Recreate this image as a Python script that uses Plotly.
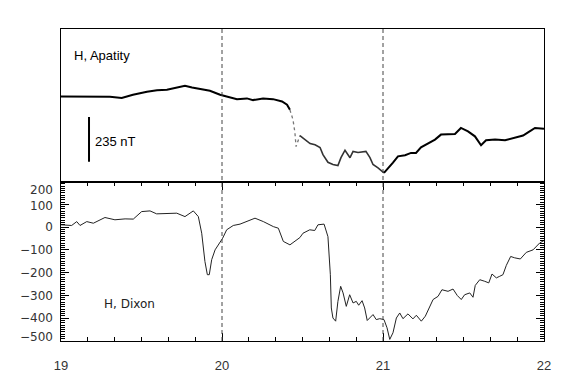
import plotly.graph_objects as go

# ---------------- data ----------------
# Upper panel: H component at Apatity (nT, arbitrary baseline)
apatity_day = [19.000, 19.180, 19.304, 19.377, 19.447, 19.534, 19.596, 19.658, 19.720, 19.770,
               19.814, 19.863, 19.925, 19.988, 20.050, 20.093, 20.155, 20.193, 20.255, 20.317,
               20.373, 20.404, 20.422, 20.441, 20.453, 20.460, 20.484, 20.516, 20.547, 20.578,
               20.609, 20.627, 20.658, 20.689, 20.720, 20.739, 20.764, 20.795, 20.814, 20.845,
               20.894, 20.919, 20.938, 20.969, 21.006, 21.031, 21.062, 21.093, 21.137, 21.174,
               21.205, 21.236, 21.280, 21.323, 21.360, 21.404, 21.447, 21.484, 21.528, 21.571,
               21.609, 21.640, 21.696, 21.758, 21.820, 21.870, 21.901, 21.944, 22.000]
apatity_h = [446, 446, 444, 438, 455, 471, 479, 481, 493, 502,
             493, 485, 476, 455, 443, 432, 436, 427, 436, 432,
             420, 403, 376, 324, 256, 183, 241, 220, 199, 193,
             178, 141, 101, 89, 84, 125, 164, 125, 158, 152,
             158, 125, 89, 72, 45, 68, 99, 132, 138, 150,
             150, 179, 199, 220, 246, 249, 249, 281, 263, 237,
             190, 216, 220, 216, 232, 241, 258, 281, 277]

# Lower panel: H component at Dixon (nT)
dixon_day = [19.000, 19.025, 19.066, 19.098, 19.118, 19.160, 19.201, 19.273, 19.335, 19.398,
             19.449, 19.501, 19.553, 19.594, 19.657, 19.719, 19.770, 19.822, 19.853, 19.874,
             19.894, 19.909, 19.921, 19.936, 19.957, 20.004, 20.029, 20.070, 20.112, 20.153,
             20.205, 20.257, 20.319, 20.350, 20.381, 20.422, 20.452, 20.484, 20.503, 20.545,
             20.576, 20.596, 20.634, 20.658, 20.673, 20.679, 20.689, 20.706, 20.720, 20.737,
             20.752, 20.772, 20.793, 20.814, 20.834, 20.849, 20.870, 20.886, 20.902, 20.938,
             20.958, 20.980, 21.006, 21.025, 21.042, 21.062, 21.083, 21.104, 21.124, 21.155,
             21.186, 21.207, 21.238, 21.263, 21.311, 21.342, 21.366, 21.404, 21.435, 21.461,
             21.486, 21.507, 21.539, 21.559, 21.573, 21.601, 21.632, 21.657, 21.677, 21.704,
             21.725, 21.745, 21.766, 21.793, 21.818, 21.853, 21.890, 21.932, 21.973, 22.000]
dixon_h = [10, 8, 7, 24, 7, 24, 17, 42, 32, 36,
           35, 68, 71, 58, 61, 61, 46, 71, 46, -27,
           -151, -209, -209, -143, -100, -49, -12, 7, 13, 24,
           39, 24, 2, -5, -63, -78, -63, -46, -27, -12,
           -15, 10, 13, -42, -209, -355, -399, -413, -326, -260,
           -289, -348, -297, -333, -326, -343, -323, -355, -410, -384,
           -406, -402, -406, -442, -493, -464, -399, -377, -402, -381,
           -403, -387, -413, -391, -318, -304, -275, -282, -272, -300,
           -318, -297, -289, -308, -256, -231, -238, -245, -206, -223,
           -216, -209, -168, -129, -135, -140, -111, -100, -70, -59]

x_tick_vals = [19, 20, 21, 22]
x_tick_text = ["19", "20", "21", "22"]
dixon_tick_vals = [200, 100, 0, -100, -200, -300, -400, -500]
dixon_tick_text = ["200", "100", "0", "\u2212100", "\u2212200", "\u2212300", "\u2212400", "\u2212500"]
# label anchor values (end labels pulled inward as in the original)
dixon_label_vals = [162, 95, 0, -100, -200, -300, -400, -482]
event_days = [20, 21]
scale_bar_nT = 235

# ---------------- figure ----------------
fig = go.Figure()

# Apatity segments: solid, sparse (dotted), gray, solid
i_a, i_b, i_c = 22, 26, 44
fig.add_trace(go.Scatter(x=apatity_day[:i_a + 1], y=apatity_h[:i_a + 1], mode="lines",
                         line=dict(color="black", width=2), xaxis="x2", yaxis="y2",
                         showlegend=False, hoverinfo="skip"))
fig.add_trace(go.Scatter(x=apatity_day[i_a:i_b + 1], y=apatity_h[i_a:i_b + 1], mode="lines",
                         line=dict(color="#777777", width=1.3, dash="dot"), xaxis="x2", yaxis="y2",
                         showlegend=False, hoverinfo="skip"))
fig.add_trace(go.Scatter(x=apatity_day[i_b:i_c + 1], y=apatity_h[i_b:i_c + 1], mode="lines",
                         line=dict(color="#333333", width=1.6), xaxis="x2", yaxis="y2",
                         showlegend=False, hoverinfo="skip"))
fig.add_trace(go.Scatter(x=apatity_day[i_c:], y=apatity_h[i_c:], mode="lines",
                         line=dict(color="black", width=2), xaxis="x2", yaxis="y2",
                         showlegend=False, hoverinfo="skip"))

fig.add_trace(go.Scatter(x=dixon_day, y=dixon_h, mode="lines",
                         line=dict(color="#222222", width=1), xaxis="x", yaxis="y",
                         showlegend=False, hoverinfo="skip"))
# invisible trace to activate label axis
fig.add_trace(go.Scatter(x=[dixon_day[0]], y=[dixon_h[0]], mode="markers",
                         marker=dict(opacity=0), xaxis="x", yaxis="y3",
                         showlegend=False, hoverinfo="skip"))

split = 0.5112
axis_font = dict(family="DejaVu Sans", size=12, color="#333333")

fig.update_layout(
    width=588, height=386,
    margin=dict(l=61, r=44, t=29, b=45),
    paper_bgcolor="white", plot_bgcolor="white",
    xaxis=dict(domain=[0, 1], anchor="y", range=[19, 22], showgrid=False, zeroline=False,
               showline=True, linecolor="black", linewidth=1, mirror="ticks", automargin=False,
               tickmode="array", tickvals=x_tick_vals, ticktext=x_tick_text,
               ticks="inside", ticklen=8, tickcolor="black", tickwidth=1,
               minor=dict(dtick=1 / 6, ticks="inside", ticklen=4, tickcolor="black", showgrid=False),
               tickfont=dict(family="Liberation Sans", size=13, color="#333333"),
               ticklabelstandoff=12),
    yaxis=dict(domain=[0, split], anchor="x", range=[-500, 200], showgrid=False, zeroline=False,
               showline=True, linecolor="black", linewidth=1, mirror="ticks", automargin=False,
               tickmode="array", tickvals=dixon_tick_vals, showticklabels=False,
               ticks="inside", ticklen=8, tickcolor="black", tickwidth=1,
               minor=dict(dtick=10, ticks="inside", ticklen=4, tickcolor="black", showgrid=False)),
    yaxis3=dict(overlaying="y", anchor="x", side="left", range=[-500, 200], showgrid=False,
                zeroline=False, showline=False, ticks="", tickmode="array", automargin=False,
                tickvals=dixon_label_vals, ticktext=dixon_tick_text,
                tickfont=axis_font, ticklabelstandoff=7),
    xaxis2=dict(domain=[0, 1], anchor="y2", range=[19, 22], matches="x", showgrid=False,
                zeroline=False, showline=True, linecolor="black", linewidth=1, mirror=True,
                ticks="", showticklabels=False, automargin=False),
    yaxis2=dict(domain=[split, 1], anchor="x2", range=[0, 800], showgrid=False, zeroline=False,
                showline=True, linecolor="black", linewidth=1, mirror=True,
                ticks="", showticklabels=False, automargin=False),
)

shapes = []
for d in event_days:
    shapes.append(dict(type="line", xref="x", yref="paper", x0=d, x1=d, y0=0, y1=1,
                       line=dict(color="#444444", width=1, dash="4px,3px")))
# scale bar in top panel (235 nT)
shapes.append(dict(type="line", xref="x2", yref="y2", x0=19.174, x1=19.174,
                   y0=104, y1=104 + scale_bar_nT, line=dict(color="black", width=2)))
fig.update_layout(shapes=shapes)

fig.add_annotation(text="H, Apatity", xref="paper", yref="paper", x=0.0228, y=0.9135,
                   xanchor="left", yanchor="middle", showarrow=False,
                   font=dict(family="Liberation Sans", size=13, color="black"))
fig.add_annotation(text=f"{scale_bar_nT} nT", xref="x2", yref="y2", x=19.198, y=104 + scale_bar_nT / 2 - 10,
                   xanchor="left", yanchor="middle", showarrow=False,
                   font=dict(family="Liberation Sans", size=13, color="black"))
fig.add_annotation(text="H, Dixon", xref="paper", yref="paper", x=0.085, y=0.12,
                   xanchor="left", yanchor="middle", showarrow=False,
                   font=dict(family="DejaVu Sans", size=12, color="#222222"))

fig.write_html("out.html", config={"displayModeBar": False},
               post_script="document.body.style.margin='0';document.body.style.padding='0';")
